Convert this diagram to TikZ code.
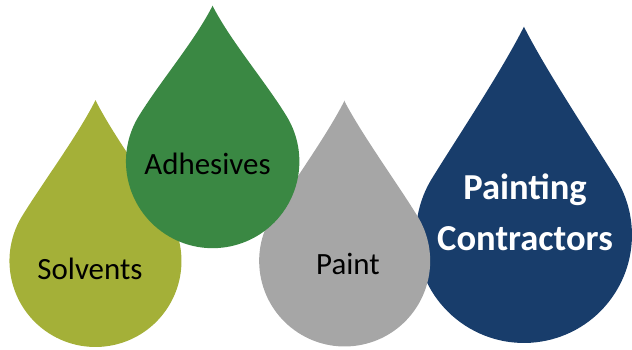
\documentclass[tikz,border=0pt]{standalone}
\usepackage{fontspec}
\setmainfont{Carlito}
\usetikzlibrary{calc}
\definecolor{dropolive}{RGB}{164,176,56}
\definecolor{dropgreen}{RGB}{58,136,67}
\definecolor{dropgrey}{RGB}{166,166,166}
\definecolor{dropnavy}{RGB}{24,61,107}
\def\waterdrop[#1](#2)(#3:#4){\fill[#1,shift={(#2)},scale=#3] (0,#4) .. controls (-0.2,#4-0.4) and (-0.6,0.93) .. (-0.839,0.545) arc (147:393:1) .. controls (0.6,0.93) and (0.2,#4-0.4) .. cycle;}
\tikzset{droptext/.style={font=\fontsize{22}{26}\selectfont, text=black}}

\begin{document}
\begin{tikzpicture}[x=0.025cm, y=0.025cm]
		%%%%% START %%%%%
		\useasboundingbox (0, 0) rectangle (632, 349);
		
		\waterdrop[dropolive](95.5, 88)(86:1.87);
		\waterdrop[dropnavy](524, 114)(108:1.93);
		\waterdrop[dropgrey](344.7, 88)(85.5:1.88);
		\waterdrop[dropgreen](212.7, 187.5)(86.7:1.8);
		
		\node[droptext] (solvents) at (90, 80) {Solvents};
		\node[droptext] (adhesives) at (207.5, 185) {Adhesives};
		\node[droptext] (paint) at (348, 85) {Paint};
		
		\node[font=\fontsize{26}{36}\selectfont\bfseries, text=white, align=center] (contractors) at (525, 136.5) {Painting\\Contractors};
		
		%%%%% END %%%%%
	\end{tikzpicture}
\end{document}
